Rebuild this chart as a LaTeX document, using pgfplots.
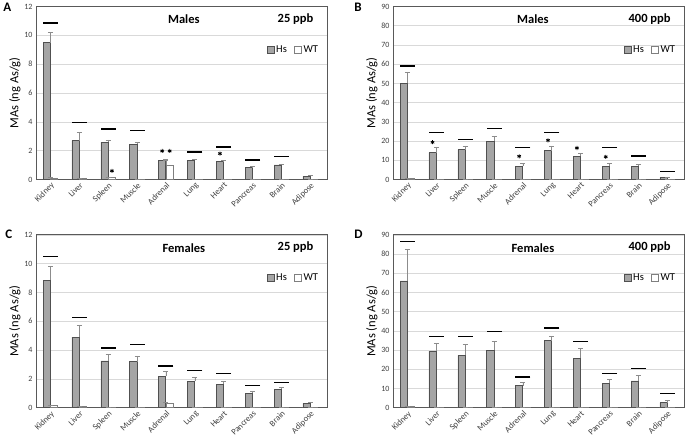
\documentclass[border=0pt]{standalone}
\usepackage{pgfplots}
\pgfplotsset{compat=1.18}
\usepackage{pgfplotstable}
\usepgfplotslibrary{groupplots}
\usepackage{fontspec}
\setmainfont{Carlito}

\definecolor{hsfill}{HTML}{A5A5A5}
\definecolor{hsdraw}{HTML}{505050}
\definecolor{wtdraw}{HTML}{7F7F7F}
\definecolor{errc}{HTML}{8C8C8C}
\definecolor{gridc}{HTML}{D9D9D9}
\definecolor{framec}{HTML}{595959}
\definecolor{tickc}{HTML}{404040}

% x Hs HsErr WT WTErr
\pgfplotstableread{
x Hs Hse WT WTe
0 9.50 0.70 0.10 0.02
1 2.70 0.55 0.07 0.01
2 2.60 0.15 0.12 0.02
3 2.45 0.15 0.03 0.00
4 1.30 0.10 1.00 0.35
5 1.35 0.05 0.03 0.00
6 1.25 0.05 0.03 0.00
7 0.82 0.08 0.02 0.00
8 1.02 0.06 0.02 0.00
9 0.22 0.06 0.03 0.00
}\maleslow
\pgfplotstableread{
x Hs Hse WT WTe
0 50.0 6.0 0.5 0.1
1 14.0 3.0 0.2 0.0
2 15.5 2.0 0.2 0.0
3 20.0 2.5 0.2 0.0
4 7.0 1.5 0.3 0.0
5 15.0 2.5 0.2 0.0
6 12.0 1.5 0.1 0.0
7 7.0 1.2 0.1 0.0
8 7.0 1.0 0.1 0.0
9 1.0 0.2 0.05 0.0
}\maleshigh
\pgfplotstableread{
x Hs Hse WT WTe
0 8.85 0.95 0.15 0.02
1 4.90 0.85 0.07 0.00
2 3.25 0.45 0.04 0.00
3 3.20 0.40 0.04 0.00
4 2.20 0.35 0.33 0.03
5 1.85 0.25 0.03 0.00
6 1.65 0.20 0.02 0.00
7 1.00 0.12 0.02 0.00
8 1.30 0.10 0.02 0.00
9 0.30 0.07 0.02 0.00
}\femaleslow
\pgfplotstableread{
x Hs Hse WT WTe
0 66.0 16.5 0.6 0.0
1 29.5 4.0 0.5 0.0
2 27.3 5.7 0.5 0.0
3 30.0 4.5 0.5 0.0
4 11.5 1.5 0.5 0.0
5 35.0 2.0 0.5 0.0
6 25.8 5.2 0.5 0.0
7 12.7 2.1 0.5 0.0
8 14.0 3.0 0.3 0.0
9 2.7 1.0 0.2 0.0
}\femaleshigh

\tikzset{ttl/.style={font=\bfseries\fontsize{12.5}{14}\selectfont}}
\pgfplotsset{
  errs/.style={
    error bars/y dir=plus, error bars/y explicit,
    error bars/error bar style={errc, line width=0.6pt},
    error bars/error mark options={errc, rotate=90, mark size=2.5bp, line width=0.6pt}},
  hsbar/.style={ybar, bar width=0.25, bar shift=-0.13, fill=hsfill, draw=hsdraw, line width=0.6pt, errs,
    legend image code/.code={\draw[fill=hsfill, draw=hsdraw, line width=0.6pt] (0bp,-3.5bp) rectangle (7bp,3.5bp);}},
  wtbar/.style={ybar, bar width=0.25, bar shift=0.13, fill=white, draw=wtdraw, line width=0.6pt, errs,
    legend image code/.code={\draw[fill=white, draw=wtdraw, line width=0.6pt] (0bp,-3.5bp) rectangle (7bp,3.5bp);}},
  sigline/.style={only marks, mark=-, mark size=7.5bp, mark options={black, line width=1.3pt}, forget plot},
  star/.style={only marks, mark=asterisk, mark size=2bp, mark options={black, line width=0.8pt}, forget plot},
}

\newcommand{\bars}[1]{%
  \addplot[hsbar] table[x=x, y=Hs, y error=Hse] {#1};
  \addlegendentry{Hs}
  \addplot[wtbar] table[x=x, y=WT, y error=WTe] {#1};
  \addlegendentry{WT}
}

\begin{document}
\begin{tikzpicture}
\begin{groupplot}[
  group style={group size=2 by 2, horizontal sep=65bp, vertical sep=55bp},
  width=290bp, height=172bp, scale only axis,
  xmin=-0.5, xmax=9.6, ymin=0,
  xtick={0,...,9},
  xticklabels={Kidney,Liver,Spleen,Muscle,Adrenal,Lung,Heart,Pancreas,Brain,Adipose},
  xticklabel style={rotate=45, anchor=north east, font=\fontsize{8.5}{9}\selectfont, text=tickc, inner sep=1.5bp},
  yticklabel style={font=\fontsize{8}{9}\selectfont, text=tickc},
  /pgf/number format/assume math mode=true,
  major tick length=0pt,
  ymajorgrids, grid style={gridc, line width=0.6pt},
  axis line style={framec, line width=0.8pt},
  ylabel={MAs (ng As/g)},
  ylabel style={font=\fontsize{12.5}{14}\selectfont, yshift=-3bp},
  legend style={draw=none, fill=none, at={(0.985,0.75)}, anchor=east,
    legend columns=2, font=\fontsize{10.5}{12}\selectfont,
    /tikz/every even column/.append style={column sep=5bp}},
  legend cell align=left,
]
% A
\nextgroupplot[ymax=12, ytick={0,2,...,12}]
\bars{\maleslow}
\addplot[sigline] coordinates {(0,10.85) (1,3.95) (2,3.5) (3,3.4) (5,1.9) (6,2.25) (7,1.35) (8,1.62)};
\addplot[star] coordinates {(3.87,1.98) (4.13,1.98) (2.13,0.6) (5.87,1.8)};
\node[ttl] at (rel axis cs:0.507,0.925) {Males};
\node[ttl] at (rel axis cs:0.89,0.93) {25 ppb};
% B
\nextgroupplot[ymax=90, ytick={0,10,...,90}]
\bars{\maleshigh}
\addplot[sigline] coordinates {(0,59) (1,24.5) (2,21) (3,26.5) (4,16.5) (5,24.5) (7,16.5) (8,12.3) (9,4)};
\addplot[star] coordinates {(0.87,19.4) (3.87,12.1) (4.87,20.4) (5.87,16.4) (6.87,11.8)};
\node[ttl] at (rel axis cs:0.48,0.925) {Males};
\node[ttl] at (rel axis cs:0.88,0.93) {400 ppb};
% C
\nextgroupplot[ymax=12, ytick={0,2,...,12}]
\bars{\femaleslow}
\addplot[sigline] coordinates {(0,10.5) (1,6.25) (2,4.15) (3,4.4) (4,2.9) (5,2.6) (6,2.4) (7,1.55) (8,1.75)};
\node[ttl] at (rel axis cs:0.507,0.925) {Females};
\node[ttl] at (rel axis cs:0.89,0.93) {25 ppb};
% D
\nextgroupplot[ymax=90, ytick={0,10,...,90}]
\bars{\femaleshigh}
\addplot[sigline] coordinates {(0,86.5) (1,37) (2,37) (3,39.8) (4,16) (5,41.5) (6,34.5) (7,18) (8,20.3) (9,7.5)};
\node[ttl] at (rel axis cs:0.48,0.925) {Females};
\node[ttl] at (rel axis cs:0.88,0.93) {400 ppb};
\end{groupplot}
\node[anchor=west, font=\bfseries\fontsize{13}{14}\selectfont] at ([xshift=-36bp, yshift=-1bp]group c1r1.north west) {A};
\node[anchor=west, font=\bfseries\fontsize{13}{14}\selectfont] at ([xshift=-42bp, yshift=-1bp]group c2r1.north west) {B};
\node[anchor=west, font=\bfseries\fontsize{13}{14}\selectfont] at ([xshift=-34bp, yshift=1bp]group c1r2.north west) {C};
\node[anchor=west, font=\bfseries\fontsize{13}{14}\selectfont] at ([xshift=-42bp, yshift=1bp]group c2r2.north west) {D};
\end{tikzpicture}
\end{document}
